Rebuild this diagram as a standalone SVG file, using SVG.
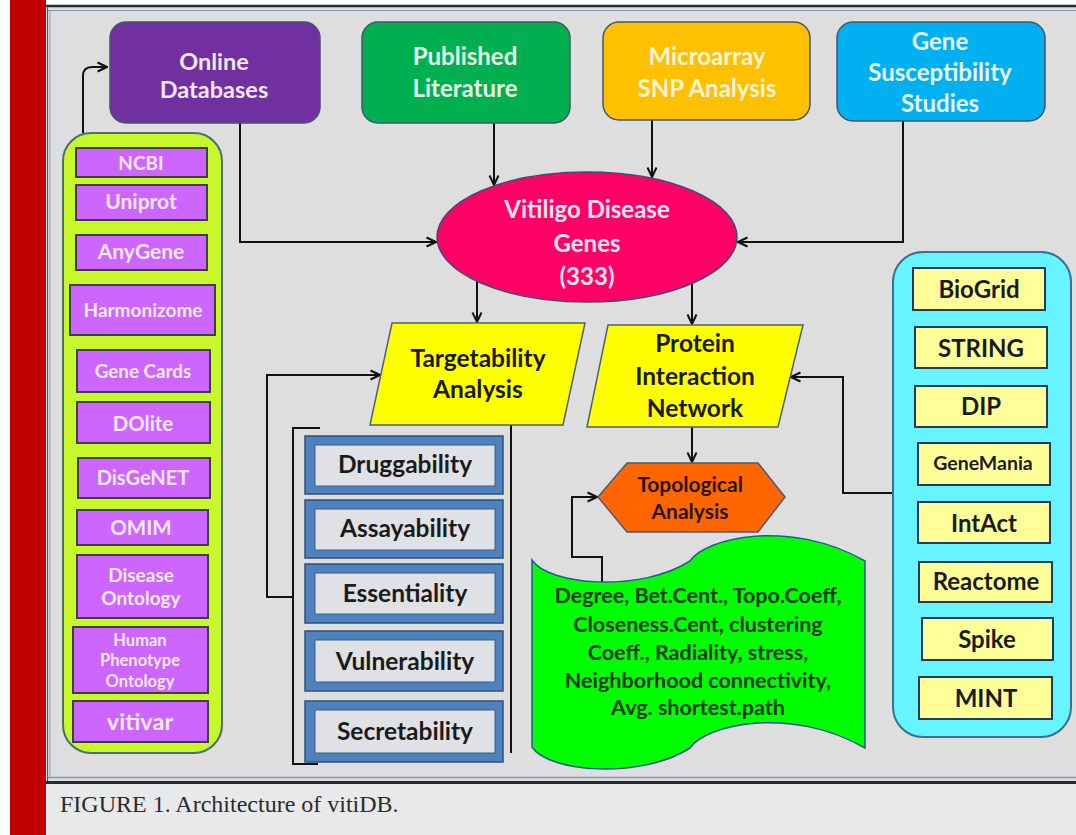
<svg xmlns="http://www.w3.org/2000/svg" width="1076" height="835" viewBox="0 0 1076 835">
  <defs>
    <marker id="arr" viewBox="0 0 12 12" refX="11" refY="6" markerWidth="12" markerHeight="12" markerUnits="userSpaceOnUse" orient="auto">
      <path d="M1.5,1.5 L11,6 L1.5,10.5" fill="none" stroke="#111" stroke-width="2" stroke-linejoin="miter"/>
    </marker>
    <style>
      text { font-family: Lato, 'Liberation Sans', sans-serif; font-weight: 700; text-anchor: middle; }
      .src { stroke: #41566f; stroke-width: 1.5; }
      .w { fill: #f3e6f6; font-size: 24px; }
      .dk { fill: #1b1b1b; font-size: 24.5px; }
      .db { fill: #cc66ff; stroke: #3f3f3f; stroke-width: 2; }
      .dbt { fill: #f6e8fa; }
      .ppi { fill: #ffff99; stroke: #233a5c; stroke-width: 2; }
      .ppit { fill: #1b1b1b; font-size: 24px; }
      .tgo { fill: #4f81bd; stroke: #2b4f7e; stroke-width: 1.5; }
      .tgi { fill: #dfe1e4; stroke: #3a5f8f; stroke-width: 1; }
      .tgt { fill: #1b1b1b; font-size: 24.5px; }
      .conn { fill: none; stroke: #111; stroke-width: 2; }
    </style>
  </defs>

  <!-- page frame -->
  <rect x="0" y="0" width="1076" height="835" fill="#ffffff"/>
  <rect x="47" y="5" width="1029" height="778" fill="#dedede"/>
  <rect x="47" y="783" width="1029" height="52" fill="#e8e9eb"/>
  <rect x="10" y="0" width="36" height="835" fill="#c00000"/>
  <line x1="46" y1="6" x2="1076" y2="6" stroke="#2a2a2a" stroke-width="2.5"/>
  <line x1="48" y1="10.5" x2="1076" y2="10.5" stroke="#7f97b8" stroke-width="1.2"/>
  <line x1="47.5" y1="6" x2="47.5" y2="783" stroke="#555" stroke-width="1.2"/>
  <line x1="50" y1="10" x2="50" y2="778" stroke="#8aa0bf" stroke-width="1"/>
  <line x1="48" y1="777.5" x2="1076" y2="777.5" stroke="#7f97b8" stroke-width="1.5"/>
  <line x1="46" y1="782.5" x2="1076" y2="782.5" stroke="#2a2a2a" stroke-width="3"/>
  <text x="60" y="812" style="font-family:'Liberation Serif',serif;font-weight:400;font-size:24px;text-anchor:start;fill:#2b2b2b">FIGURE 1. Architecture of vitiDB.</text>

  <!-- connectors -->
  <g id="connectors">
    <path class="conn" d="M83,133 V76 Q83,67 92,67 H107" stroke-width="4" marker-end="url(#arr)"/>
    <path class="conn" d="M240,123 V242 H436" marker-end="url(#arr)"/>
    <path class="conn" d="M494,123 V185" marker-end="url(#arr)"/>
    <path class="conn" d="M652,120 V177" marker-end="url(#arr)"/>
    <path class="conn" d="M903,121 V242 H738" marker-end="url(#arr)"/>
    <path class="conn" d="M477,281 V322" marker-end="url(#arr)"/>
    <path class="conn" d="M692,284 V324" marker-end="url(#arr)"/>
    <path class="conn" d="M692,427 V462" marker-end="url(#arr)"/>
    <path class="conn" d="M293,597 H267 V375 H380" marker-end="url(#arr)"/>
    <path class="conn" d="M893,493 H843 V377 H791" marker-end="url(#arr)"/>
    <path class="conn" d="M602,582 V557 H572 V497 H597" marker-end="url(#arr)"/>
    <path class="conn" d="M320,428 H293 V764 H318" stroke-width="3"/>
    <path class="conn" d="M511,425 V753" stroke-width="2.5"/>
  </g>

  <!-- source boxes -->
  <g id="online-databases">
    <rect x="110" y="22" width="210" height="101" rx="16" fill="#7030a0" class="src"/>
    <text class="w" x="214" y="70" style="font-size:23.5px">Online</text>
    <text class="w" x="214" y="98" style="font-size:23.5px">Databases</text>
  </g>
  <g id="published-literature">
    <rect x="362" y="22" width="208" height="101" rx="16" fill="#00b050" class="src"/>
    <text class="w" x="465" y="65" style="fill:#e9f6e6">Published</text>
    <text class="w" x="465" y="97" style="fill:#e9f6e6">Literature</text>
  </g>
  <g id="microarray-snp">
    <rect x="603" y="22" width="207" height="98" rx="16" fill="#ffc000" class="src"/>
    <text class="w" x="707" y="65" style="fill:#fff4d6">Microarray</text>
    <text class="w" x="707" y="97" style="fill:#fff4d6">SNP Analysis</text>
  </g>
  <g id="gene-susceptibility">
    <rect x="837" y="22" width="208" height="99" rx="16" fill="#00b0f0" class="src"/>
    <text class="w" x="940" y="50" style="fill:#e8f6fd">Gene</text>
    <text class="w" x="940" y="81" style="fill:#e8f6fd">Susceptibility</text>
    <text class="w" x="940" y="112" style="fill:#e8f6fd">Studies</text>
  </g>

  <!-- central gene set -->
  <g id="vitiligo-genes">
    <ellipse cx="587" cy="237" rx="150" ry="65" fill="#ff0066" stroke="#3d4f75" stroke-width="1.5"/>
    <text class="w" x="587" y="218" style="fill:#ffe3f0">Vitiligo Disease</text>
    <text class="w" x="587" y="252" style="fill:#ffe3f0">Genes</text>
    <text class="w" x="587" y="285" style="fill:#ffe3f0">(333)</text>
  </g>

  <!-- analysis steps -->
  <g id="targetability-analysis">
    <polygon points="392,323 585,323 563,425 370,425" fill="#ffff00" stroke="#4a6080" stroke-width="1.5"/>
    <text class="dk" x="478" y="367">Targetability</text>
    <text class="dk" x="478" y="398">Analysis</text>
  </g>
  <g id="protein-interaction-network">
    <polygon points="608,325 803,325 778,427 587,427" fill="#ffff00" stroke="#4a6080" stroke-width="1.5"/>
    <text class="dk" x="695" y="352">Protein</text>
    <text class="dk" x="695" y="385">Interaction</text>
    <text class="dk" x="695" y="417">Network</text>
  </g>
  <g id="topological-analysis">
    <polygon points="598,497 627,463 758,463 785,497 758,532 627,532" fill="#ff6600" stroke="#4a5a78" stroke-width="1.5"/>
    <text x="690" y="492" style="font-size:21px;fill:#2a1500">Topological</text>
    <text x="690" y="519" style="font-size:21px;fill:#2a1500">Analysis</text>
  </g>
  <g id="topology-measures">
    <path d="M532,560 C548,585 640,593 690,561 C705,538 790,518 865,561 L865,748 C790,705 705,725 690,748 C640,780 548,772 532,747 Z" fill="#00ff00" stroke="#2f5597" stroke-width="1.5"/>
    <g style="font-size:21.5px;fill:#0b3a0b">
      <text x="698" y="603">Degree, Bet.Cent., Topo.Coeff,</text>
      <text x="698" y="632">Closeness.Cent, clustering</text>
      <text x="698" y="660">Coeff., Radiality, stress,</text>
      <text x="698" y="688">Neighborhood connectivity,</text>
      <text x="698" y="715">Avg. shortest.path</text>
    </g>
  </g>

  <!-- targetability criteria -->
  <g id="druggability">
    <rect class="tgo" x="305" y="436" width="198" height="58"/>
    <rect class="tgi" x="315" y="445" width="180" height="41"/>
    <text class="tgt" x="405" y="473">Druggability</text>
  </g>
  <g id="assayability">
    <rect class="tgo" x="305" y="500" width="198" height="58"/>
    <rect class="tgi" x="315" y="509" width="180" height="41"/>
    <text class="tgt" x="405" y="537">Assayability</text>
  </g>
  <g id="essentiality">
    <rect class="tgo" x="305" y="564" width="198" height="59"/>
    <rect class="tgi" x="315" y="573" width="180" height="41"/>
    <text class="tgt" x="405" y="602">Essentiality</text>
  </g>
  <g id="vulnerability">
    <rect class="tgo" x="305" y="631" width="198" height="60"/>
    <rect class="tgi" x="315" y="640" width="180" height="42"/>
    <text class="tgt" x="405" y="670">Vulnerability</text>
  </g>
  <g id="secretability">
    <rect class="tgo" x="305" y="701" width="198" height="61"/>
    <rect class="tgi" x="315" y="710" width="180" height="43"/>
    <text class="tgt" x="405" y="740">Secretability</text>
  </g>

  <!-- online database sources -->
  <g id="database-panel">
    <rect x="63" y="133" width="159" height="620" rx="28" fill="#c6f82c" stroke="#4d6b78" stroke-width="2"/>
  </g>
  <g id="ncbi">
    <rect class="db" x="76" y="148" width="131" height="29"/>
    <text class="dbt" x="141" y="170" style="font-size:19px">NCBI</text>
  </g>
  <g id="uniprot">
    <rect class="db" x="76" y="185" width="131" height="35"/>
    <text class="dbt" x="141" y="209" style="font-size:21px">Uniprot</text>
  </g>
  <g id="anygene">
    <rect class="db" x="76" y="235" width="131" height="35"/>
    <text class="dbt" x="141" y="259" style="font-size:21px">AnyGene</text>
  </g>
  <g id="harmonizome">
    <rect class="db" x="70" y="285" width="145" height="50"/>
    <text class="dbt" x="143" y="317" style="font-size:19px">Harmonizome</text>
  </g>
  <g id="gene-cards">
    <rect class="db" x="77" y="350" width="133" height="42"/>
    <text class="dbt" x="143" y="378" style="font-size:18.8px">Gene Cards</text>
  </g>
  <g id="dolite">
    <rect class="db" x="77" y="402" width="133" height="41"/>
    <text class="dbt" x="143" y="431" style="font-size:20.4px">DOlite</text>
  </g>
  <g id="disgenet">
    <rect class="db" x="78" y="458" width="132" height="40"/>
    <text class="dbt" x="143" y="485" style="font-size:20px">DisGeNET</text>
  </g>
  <g id="omim">
    <rect class="db" x="77" y="510" width="131" height="35"/>
    <text class="dbt" x="141" y="535" style="font-size:20.5px">OMIM</text>
  </g>
  <g id="disease-ontology">
    <rect class="db" x="77" y="555" width="131" height="63"/>
    <text class="dbt" x="141" y="582" style="font-size:19px">Disease</text>
    <text class="dbt" x="141" y="605" style="font-size:19px">Ontology</text>
  </g>
  <g id="human-phenotype-ontology">
    <rect class="db" x="73" y="627" width="135" height="66"/>
    <text class="dbt" x="140" y="646" style="font-size:16.5px">Human</text>
    <text class="dbt" x="140" y="666" style="font-size:16.5px">Phenotype</text>
    <text class="dbt" x="140" y="687" style="font-size:16.5px">Ontology</text>
  </g>
  <g id="vitivar">
    <rect class="db" x="73" y="701" width="135" height="41"/>
    <text class="dbt" x="140" y="730" style="font-size:23.5px">vitivar</text>
  </g>

  <!-- interaction resources -->
  <g id="interaction-panel">
    <rect x="893" y="252" width="178" height="485" rx="30" fill="#66f5ff" stroke="#3a6f8f" stroke-width="2"/>
  </g>
  <g id="biogrid">
    <rect class="ppi" x="913" y="268" width="132" height="42"/>
    <text class="ppit" x="979" y="298">BioGrid</text>
  </g>
  <g id="string">
    <rect class="ppi" x="915" y="327" width="132" height="41"/>
    <text class="ppit" x="981" y="357">STRING</text>
  </g>
  <g id="dip">
    <rect class="ppi" x="915" y="386" width="132" height="41"/>
    <text class="ppit" x="981" y="415">DIP</text>
  </g>
  <g id="genemania">
    <rect class="ppi" x="918" y="443" width="132" height="42"/>
    <text class="ppit" x="983" y="470" style="font-size:19.5px">GeneMania</text>
  </g>
  <g id="intact">
    <rect class="ppi" x="918" y="502" width="132" height="41"/>
    <text class="ppit" x="984" y="532">IntAct</text>
  </g>
  <g id="reactome">
    <rect class="ppi" x="919" y="562" width="133" height="40"/>
    <text class="ppit" x="986" y="590">Reactome</text>
  </g>
  <g id="spike">
    <rect class="ppi" x="922" y="618" width="131" height="42"/>
    <text class="ppit" x="987" y="648">Spike</text>
  </g>
  <g id="mint">
    <rect class="ppi" x="919" y="677" width="133" height="42"/>
    <text class="ppit" x="986" y="707">MINT</text>
  </g>
</svg>
